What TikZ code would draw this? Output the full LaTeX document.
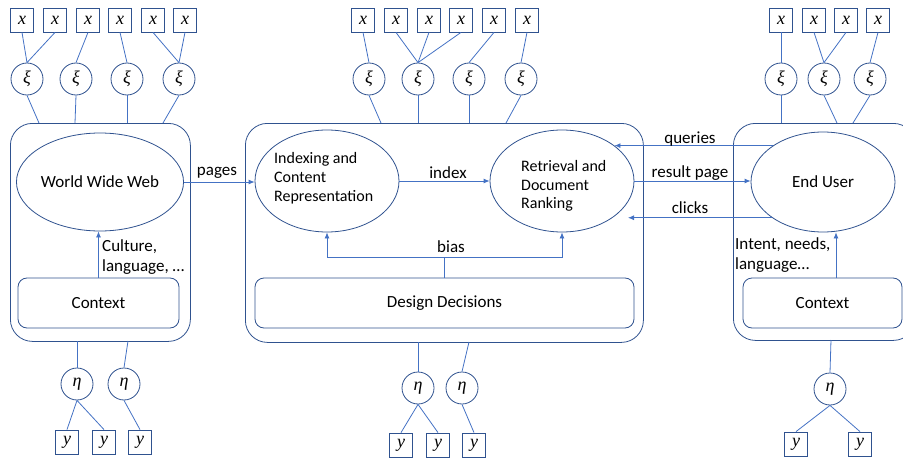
\documentclass[tikz,border=0pt]{standalone}
\usepackage{fontspec}
\setmainfont{Carlito}
\newfontfamily\varfont{Liberation Serif}
\usetikzlibrary{shapes.geometric,arrows.meta}
\definecolor{edgeblue}{HTML}{2F528F}
\definecolor{linkblue}{HTML}{4472C4}
\tikzset{
  panel/.style={draw=edgeblue, line width=0.8pt, rounded corners=22pt, inner sep=0},
  ctxbox/.style={draw=edgeblue, line width=0.8pt, rounded corners=9pt, inner sep=0,
                 font=\fontsize{17}{20}\selectfont},
  oval/.style={ellipse, draw=edgeblue, line width=0.8pt, inner sep=0},
  obs/.style={draw=edgeblue, line width=0.8pt, minimum width=23.5pt, minimum height=24pt,
              inner sep=0, font=\varfont\itshape\fontsize{18}{18}\selectfont},
  latent/.style={circle, draw=edgeblue, line width=0.8pt, minimum size=32pt, inner sep=0,
                 font=\varfont\itshape\fontsize{18}{18}\selectfont},
  link/.style={draw=linkblue, line width=0.8pt},
  flow/.style={link, -{Latex[length=6pt,width=5pt]}},
  lbl/.style={font=\fontsize{17}{20}\selectfont, inner sep=0},
  ovaltext/.style={font=\fontsize{16}{19}\selectfont, inner sep=0, align=left, anchor=west}
}
\begin{document}
\begin{tikzpicture}[x=1pt,y=-1pt]
\useasboundingbox (0,0) rectangle (903,460);
\clip (0,0) rectangle (903,460);

% ---- three system panels ----
\node[panel, minimum width=180pt, minimum height=218pt, anchor=north west] (webpanel) at (10,123) {};
\node[panel, minimum width=398pt, minimum height=219pt, anchor=north west] (sepanel) at (245,123) {};
\node[panel, minimum width=182pt, minimum height=217pt, anchor=north west] (userpanel) at (733,123) {};

% ---- inner components ----
\node[oval, minimum width=161pt, minimum height=98pt, font=\fontsize{17}{20}\selectfont] (www) at (100,182) {World Wide Web};
\node[ctxbox, minimum width=161pt, minimum height=50pt] (ctxL) at (98.5,303) {Context};

\node[oval, minimum width=144pt, minimum height=102pt] (idx) at (327,181) {};
\node[ovaltext] (idxtext) at (274,178) {Indexing and\\Content\\Representation};
\node[oval, minimum width=144pt, minimum height=102pt] (ret) at (562,181) {};
\node[ovaltext, font=\fontsize{16}{18.5}\selectfont] (rettext) at (521,186) {Retrieval and\\Document\\Ranking};
\node[ctxbox, minimum width=379pt, minimum height=50pt] (dd) at (444.5,303) {Design Decisions};

\node[oval, minimum width=144pt, minimum height=100pt, font=\fontsize{17}{20}\selectfont] (user) at (823,182) {End User};
\node[ctxbox, minimum width=159pt, minimum height=50pt] (ctxR) at (822.5,303) {Context};

% ---- flows between components ----
\draw[flow] (www.east) -- (www.east -| idx.west);
\node[lbl] (pageslbl) at (217,173) {pages};
\draw[flow] (idx.east) -- (idx.east -| ret.west);
\node[lbl] (indexlbl) at (448,173) {index};
\draw[flow] (ret.east) -- (ret.east -| user.west);
\node[lbl] (resultlbl) at (690,173) {result page};
\draw[flow] (user.144) -- (ret.34.5 |- user.144);
\node[lbl] (querieslbl) at (690,139) {queries};
\coordinate (clicksend) at (628,217);
\draw[flow] (user.215) -- (clicksend |- user.215);
\node[lbl] (clickslbl) at (690,208) {clicks};

% context influences
\draw[flow] (ctxL.north) -- (ctxL.north |- www.south);
\node[lbl, align=left, anchor=west] (culturelbl) at (102,257) {Culture,\\language, …};
\coordinate (intentfoot) at (836,278);
\draw[flow] (intentfoot) -- (intentfoot |- user.south);
\node[lbl, align=left, anchor=west] (intentlbl) at (735,255) {Intent, needs,\\language…};

% design bias
\coordinate (biasjoin) at (444.5,257);
\draw[link] (dd.north) -- (biasjoin);
\draw[flow] (biasjoin) -| (idx.south);
\draw[flow] (biasjoin) -| (ret.south);
\node[lbl] (biaslbl) at (451,247) {bias};

% ---- observed features above the panels ----
\foreach \n/\x in {1/22,2/55,3/88,4/120,5/153,6/185}
  \node[obs] (xa\n) at (\x,20) {x};
\foreach \n/\x in {1/27,2/76,3/127,4/179}
  \node[latent] (xia\n) at (\x,79) {ξ};
\foreach \b/\c in {1/1,2/1,3/2,4/3,5/4,6/4}
  \draw[link] (xa\b.south) -- (xia\c.north);
\foreach \n/\x in {1/39,2/75,3/127,4/163}{
  \coordinate (pa\n) at (\x,123);
  \draw[link] (xia\n.south) -- (pa\n);
}

\foreach \n/\x in {1/363,2/396,3/429,4/461,5/494,6/527}
  \node[obs] (xb\n) at (\x,20) {x};
\foreach \n/\x in {1/369,2/418,3/469,4/521}
  \node[latent] (xib\n) at (\x,79) {ξ};
\foreach \b/\c in {1/1,2/2,3/2,4/2,5/3,6/4}
  \draw[link] (xb\b.south) -- (xib\c.north);
\foreach \n/\x in {1/381,2/418,3/469,4/506}{
  \coordinate (pb\n) at (\x,123);
  \draw[link] (xib\n.south) -- (pb\n);
}

\foreach \n/\x in {1/781,2/814,3/846,4/878}
  \node[obs] (xc\n) at (\x,20) {x};
\foreach \n/\x in {1/781,2/824,3/870}
  \node[latent] (xic\n) at (\x,79) {ξ};
\foreach \b/\c in {1/1,2/2,3/2,4/3}
  \draw[link] (xc\b.south) -- (xic\c.north);
\foreach \n/\x in {1/781,2/837,3/853}{
  \coordinate (pc\n) at (\x,123);
  \draw[link] (xic\n.south) -- (pc\n);
}

% ---- outcomes below the panels ----
\node[latent] (etaa1) at (77,384) {η};
\node[latent] (etaa2) at (124,384) {η};
\foreach \n/\x in {1/67,2/104,3/140}
  \node[obs] (ya\n) at (\x,442) {y};
\coordinate (qa1) at (77,341);
\coordinate (qa2) at (128,341);
\draw[link] (qa1) -- (etaa1.north);
\draw[link] (qa2) -- (etaa2.north);
\draw[link] (etaa1.south) -- (ya1.north);
\draw[link] (etaa1.south) -- (ya2.north);
\draw[link] (etaa2.south) -- (ya3.north);

\node[latent] (etab1) at (418,388) {η};
\node[latent] (etab2) at (462,388) {η};
\foreach \n/\x in {1/401,2/438,3/474}
  \node[obs] (yb\n) at (\x,445) {y};
\coordinate (qb1) at (418,342);
\coordinate (qb2) at (469,342);
\draw[link] (qb1) -- (etab1.north);
\draw[link] (qb2) -- (etab2.north);
\draw[link] (etab1.south) -- (yb1.north);
\draw[link] (etab1.south) -- (yb2.north);
\draw[link] (etab2.south) -- (yb3.north);

\node[latent] (etac1) at (830,389) {η};
\foreach \n/\x in {1/796,2/860}
  \node[obs] (yc\n) at (\x,444) {y};
\coordinate (qc1) at (831,340);
\draw[link] (qc1) -- (etac1.north);
\draw[link] (etac1.south) -- (yc1.north);
\draw[link] (etac1.south) -- (yc2.north);
\end{tikzpicture}
\end{document}
